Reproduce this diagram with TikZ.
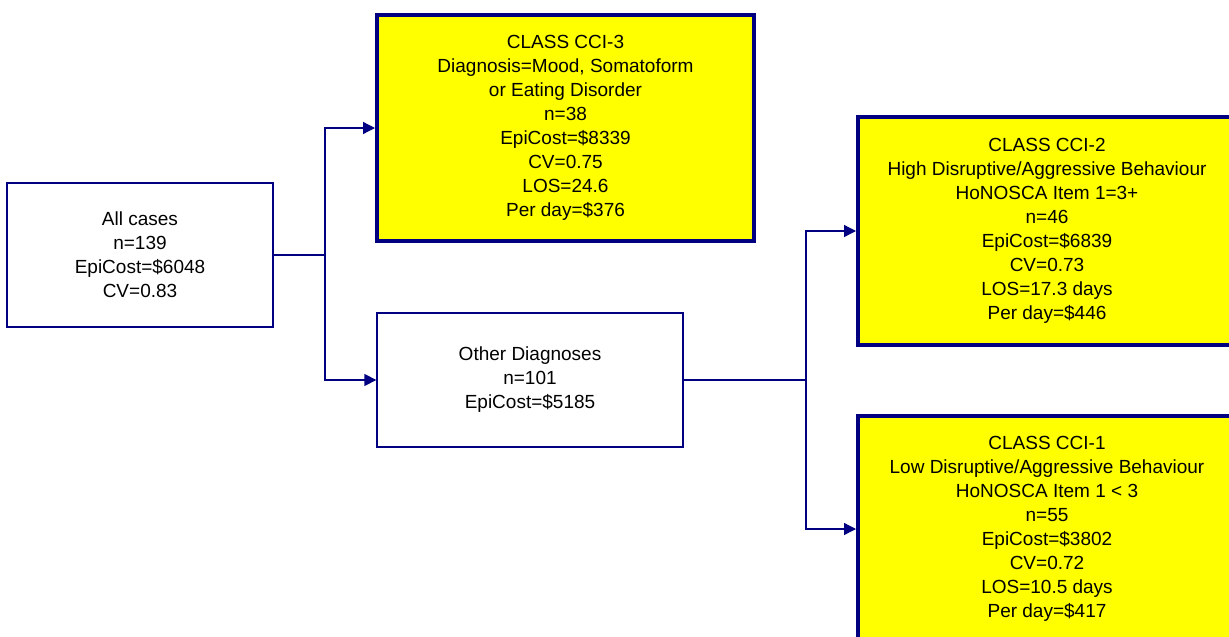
\documentclass[tikz,border=0pt]{standalone}
\usepackage{fontspec}
\setmainfont{Liberation Sans}
\usetikzlibrary{arrows.meta, positioning}
\usepackage{xcolor}
\definecolor{treeNavy}{HTML}{000080}
\definecolor{classYellow}{HTML}{FFFF00}
\tikzset{
  split/.style={draw=treeNavy, line width=1.3pt, fill=white, align=center,
               font=\fontsize{19}{24}\selectfont, inner sep=0pt},
  leaf/.style={draw=treeNavy, line width=4pt, fill=classYellow, align=center,
               font=\fontsize{19}{24}\selectfont, inner sep=0pt},
  link/.style={draw=treeNavy, line width=1.3pt},
  arrow/.style={link, -{Triangle[length=12pt, width=12pt]}},
}

\begin{document}
\begin{tikzpicture}[x=1pt, y=-1pt]
\useasboundingbox (0,0) rectangle (1229,637);
\clip (0,0) rectangle (1229,637);
% tree nodes
\node[split, minimum width=266pt, minimum height=144pt] (allcases) at (140,255)
  {All cases\\n=139\\EpiCost=\$6048\\CV=0.83};
\node[leaf, minimum width=377pt, minimum height=226pt] (cciThree) at (565.5,128)
  {CLASS CCI-3\\Diagnosis=Mood, Somatoform\\or Eating Disorder\\n=38\\EpiCost=\$8339\\CV=0.75\\LOS=24.6\\Per day=\$376};
\node[split, minimum width=306pt, minimum height=134pt] (otherdiag) at (530,380)
  {Other Diagnoses\\n=101\\EpiCost=\$5185};
\node[leaf, minimum width=378pt, minimum height=228pt] (cciTwo) at (1047,231)
  {CLASS CCI-2\\High Disruptive/Aggressive Behaviour\\HoNOSCA Item 1=3+\\n=46\\EpiCost=\$6839\\CV=0.73\\LOS=17.3 days\\Per day=\$446};
\node[leaf, minimum width=378pt, minimum height=226pt] (cciOne) at (1047,529)
  {CLASS CCI-1\\Low Disruptive/Aggressive Behaviour\\HoNOSCA Item 1 < 3\\n=55\\EpiCost=\$3802\\CV=0.72\\LOS=10.5 days\\Per day=\$417};
% branch points
\coordinate (fork1) at (325,255);
\coordinate (fork2) at (806,380);
% connectors
\draw[link] (allcases.east) -- (fork1);
\draw[arrow] (fork1) |- (cciThree.west);
\draw[arrow] (fork1) |- (otherdiag.west);
\draw[link] (otherdiag.east) -- (fork2);
\draw[arrow] (fork2) |- (cciTwo.west);
\draw[arrow] (fork2) |- (cciOne.west);
\end{tikzpicture}
\end{document}
